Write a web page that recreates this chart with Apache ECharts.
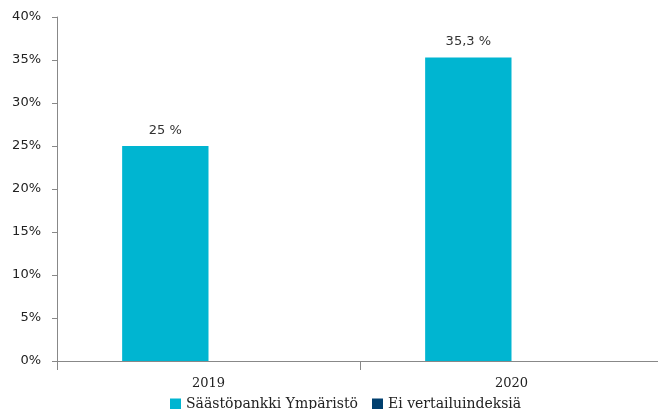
<!DOCTYPE html>
<html><head><meta charset="utf-8">
<script src="https://cdn.jsdelivr.net/npm/echarts@6/dist/echarts.min.js"></script>
<style>html,body{margin:0;padding:0;background:#fff;overflow:hidden}#c{width:672px;height:409px}</style>
</head><body><div id="c"></div>
<script>
const categories = ['2019', '2020'];
const fundValues = [25, 35.3];
const fundLabels = ['25 %', '35,3 %'];
const benchmarkValues = ['-', '-'];
const seriesNames = ['Säästöpankki Ympäristö', 'Ei vertailuindeksiä'];
const yTicks = [0, 5, 10, 15, 20, 25, 30, 35, 40];

const chart = echarts.init(document.getElementById('c'));
chart.setOption({
  animation: false,
  grid: { left: 57, right: 9, top: 17, bottom: 48, containLabel: false },
  legend: {
    bottom: -7, left: 165, itemWidth: 11, itemHeight: 11, itemGap: 14,
    icon: 'rect',
    textStyle: { fontFamily: 'DejaVu Serif', fontSize: 14, color: '#222' },
    data: seriesNames
  },
  xAxis: {
    type: 'category', data: categories,
    axisLine: { lineStyle: { color: '#888' } },
    axisTick: { show: true, length: 9, lineStyle: { color: '#888' } },
    axisLabel: { fontFamily: 'DejaVu Serif', fontSize: 13, color: '#222', margin: 16 }
  },
  yAxis: {
    type: 'value', min: yTicks[0], max: yTicks[yTicks.length - 1], interval: 5,
    axisLine: { show: true, lineStyle: { color: '#888' } },
    axisTick: { show: true, length: 5, lineStyle: { color: '#888' } },
    splitLine: { show: false },
    axisLabel: { formatter: v => v + '%', fontFamily: 'DejaVu Sans', fontSize: 13, color: '#222', margin: 16 }
  },
  series: [
    {
      name: seriesNames[0], type: 'bar', data: fundValues,
      barGap: '0%', barCategoryGap: '43%',
      itemStyle: { color: '#00B5D1' },
      label: { show: true, position: 'top', distance: 9, fontFamily: 'DejaVu Sans', fontSize: 13, color: '#333',
        formatter: p => fundLabels[p.dataIndex] }
    },
    {
      name: seriesNames[1], type: 'bar', data: benchmarkValues,
      itemStyle: { color: '#003F6E' }
    }
  ]
});
</script></body></html>
